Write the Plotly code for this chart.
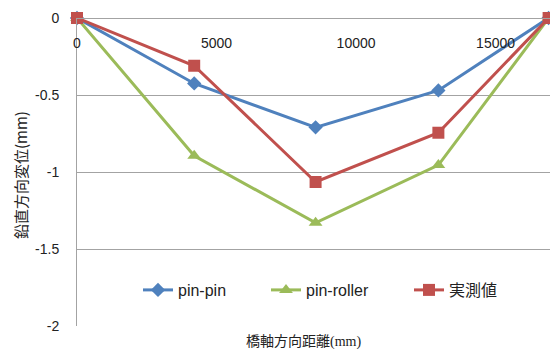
import plotly.graph_objects as go

# Measurement positions along the bridge axis (mm)
distance = [0, 4200, 8550, 12950, 16900]

# Vertical displacement (mm)
pin_pin = [0, -0.425, -0.71, -0.47, 0]
pin_roller = [0, -0.895, -1.33, -0.955, 0]
measured = [0, -0.31, -1.065, -0.745, 0]

series_names = ["pin-pin", "pin-roller", "実測値"]
x_ticks = [0, 5000, 10000, 15000]
y_ticks = [0, -0.5, -1, -1.5, -2]

W, H = 550, 349
L, R, T, B = 77, 0, 18, 23

blue, green, red = "#4F81BD", "#9BBB59", "#C0504D"
grid = "#a3a3a3"
tick_font = dict(family="Liberation Sans, Arial, sans-serif", size=14, color="#222222")
cjk = "Noto Sans CJK JP"


def px_to_paper(px, py):
    """Pixel position in the page to paper coordinates of the plot area."""
    return (px - L) / (W - L - R), (H - B - py) / (H - T - B)


fig = go.Figure()
fig.add_trace(go.Scatter(
    x=distance, y=pin_pin, name=series_names[0], mode="lines+markers",
    line=dict(color=blue, width=3), marker=dict(symbol="diamond", size=11, color=blue),
    cliponaxis=False, legend="legend"))
fig.add_trace(go.Scatter(
    x=distance, y=pin_roller, name=series_names[1], mode="lines+markers",
    line=dict(color=green, width=3), marker=dict(symbol="triangle-up", size=12, color=green),
    cliponaxis=False, legend="legend2"))
fig.add_trace(go.Scatter(
    x=distance, y=measured, name=series_names[2], mode="lines+markers",
    line=dict(color=red, width=3), marker=dict(symbol="square", size=12, color=red),
    cliponaxis=False, legend="legend3"))

legend_common = dict(
    xref="paper", yref="paper", xanchor="left", yanchor="middle",
    bgcolor="rgba(0,0,0,0)", borderwidth=0,
    font=dict(family=f"Liberation Sans, {cjk}, sans-serif", size=16, color="#222222"),
)
l1x, ly = px_to_paper(138, 290)
l2x, _ = px_to_paper(266, 290)
l3x, _ = px_to_paper(409, 290)

xt_x, xt_y = px_to_paper(303, 340)
yt_x, yt_y = px_to_paper(20, 175)

fig.update_layout(
    width=W, height=H,
    margin=dict(l=L, r=R, t=T, b=B, autoexpand=False),
    paper_bgcolor="white", plot_bgcolor="white",
    showlegend=True,
    legend=dict(x=l1x, y=ly, **legend_common),
    legend2=dict(x=l2x, y=ly, **legend_common),
    legend3=dict(x=l3x, y=ly, **legend_common),
    # distance axis crosses at zero displacement (top of the plot), labels below it
    xaxis=dict(
        range=[0, 16950], tickvals=x_ticks, ticktext=[str(v) for v in x_ticks],
        anchor="free", position=1, side="bottom",
        showgrid=False, zeroline=False, showline=True, linecolor=grid, linewidth=1,
        ticks="", ticklabelstandoff=12, tickfont=tick_font,
    ),
    yaxis=dict(
        range=[-2, 0], tickvals=y_ticks, ticktext=["0", "-0.5", "-1", "-1.5", "-2"],
        showgrid=True, gridcolor=grid, gridwidth=1, zeroline=False,
        showline=True, linecolor=grid, linewidth=1,
        ticks="", ticklabelstandoff=14, tickfont=tick_font,
    ),
    annotations=[
        dict(
            text="橋軸方向距離<span style='font-family:Liberation Serif'>(mm)</span>",
            xref="paper", yref="paper", x=xt_x, y=xt_y,
            xanchor="center", yanchor="middle", showarrow=False,
            font=dict(family=cjk, size=14, color="#222222"),
        ),
        dict(
            text="鉛直方向変位(mm)",
            xref="paper", yref="paper", x=yt_x, y=yt_y,
            xanchor="center", yanchor="middle", showarrow=False, textangle=-90,
            font=dict(family=cjk, size=15, color="#222222"),
        ),
    ],
)

fig.write_html("out.html")
